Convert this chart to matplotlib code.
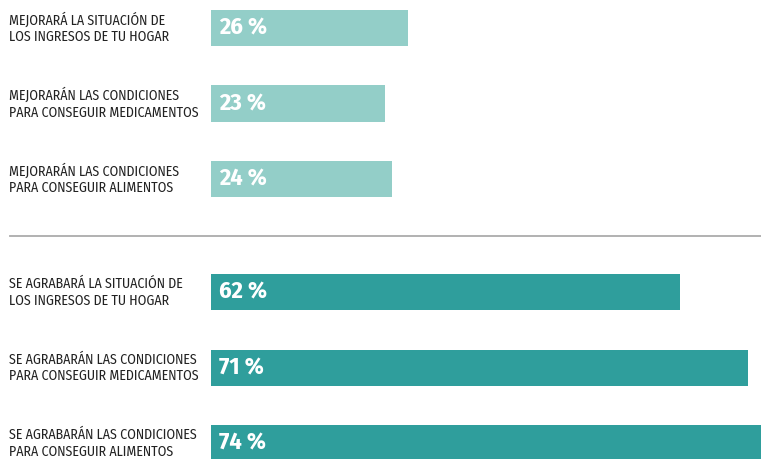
import matplotlib.pyplot as plt

labels = [
    "MEJORARÁ LA SITUACIÓN DE\nLOS INGRESOS DE TU HOGAR",
    "MEJORARÁN LAS CONDICIONES\nPARA CONSEGUIR MEDICAMENTOS",
    "MEJORARÁN LAS CONDICIONES\nPARA CONSEGUIR ALIMENTOS",
    "SE AGRABARÁ LA SITUACIÓN DE\nLOS INGRESOS DE TU HOGAR",
    "SE AGRABARÁN LAS CONDICIONES\nPARA CONSEGUIR MEDICAMENTOS",
    "SE AGRABARÁN LAS CONDICIONES\nPARA CONSEGUIR ALIMENTOS",
]
values = [26, 23, 24, 62, 71, 74]
positions = [0, 1, 2, 3.5, 4.5, 5.5]
colors = ["#93cec8"] * 3 + ["#2f9e9c"] * 3

font = ["Fira Sans Condensed", "DejaVu Sans"]

W, H = 761, 459
fig = plt.figure(figsize=(W / 100, H / 100), dpi=100)
# axes starts where the bars start (x=211px) and fills the height
ax = fig.add_axes([211 / W, 0, 1 - 211 / W, 1])
ax.barh(positions, values, height=0.477, color=colors)
ax.set_xlim(0, 550 / 7.56)
ax.set_ylim((459 - 28) / 75.5, -28 / 75.5)
ax.axis("off")

for p, v, lab in zip(positions, values, labels):
    ax.text(1.05, p, "%d %%" % v, color="white", fontsize=17.5, fontweight="bold",
            va="center", ha="left", family=font)
    fig.text(9 / W, 1 - (28 + p * 75.5) / H, lab, fontsize=10, color="#222222",
             va="center", ha="left", linespacing=1.2, family=font)

# separator between the two groups
sep_y = 1 - 236 / H
fig.add_artist(plt.Line2D([10 / W, 1], [sep_y, sep_y], color="#ababab", lw=1.3))

fig.savefig("out.png", dpi=100)
